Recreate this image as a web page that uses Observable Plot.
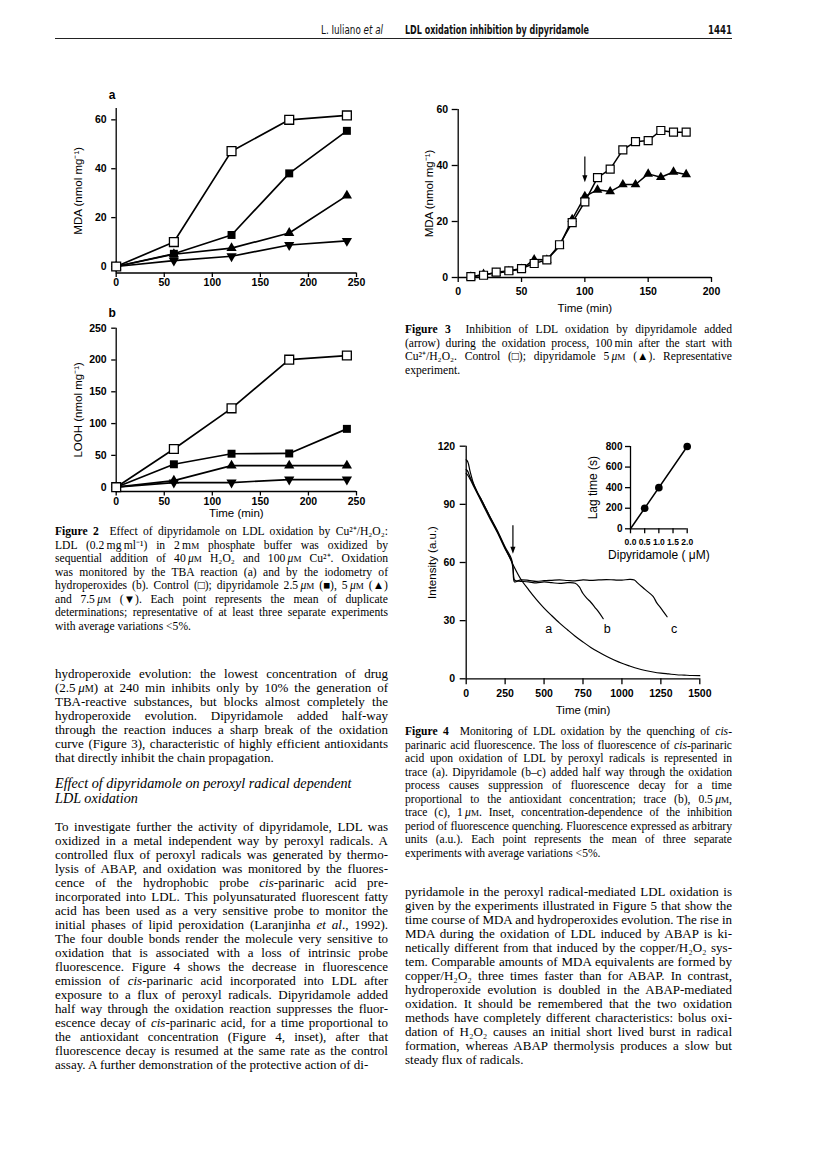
<!DOCTYPE html>
<html><head><meta charset="utf-8">
<script src="https://cdn.jsdelivr.net/npm/d3@7"></script>
<script src="https://cdn.jsdelivr.net/npm/@observablehq/plot@0.6"></script>
<style>
html,body{margin:0;padding:0;background:#fff;}
#page{position:relative;width:816px;height:1165px;overflow:hidden;background:#fff;}
.ln{position:absolute;white-space:nowrap;display:inline-block;font-family:"Liberation Serif","Times New Roman",serif;color:#000;}
.sc{font-size:0.78em;}
.hd{position:absolute;white-space:nowrap;font-family:"DejaVu Sans Condensed","DejaVu Sans",sans-serif;color:#111;transform-origin:0 50%;}
svg{position:absolute;}
</style></head>
<body><div id="page"></div>
<script>
// ---------------- DATA ----------------
// Figure 2 (a: MDA, b: LOOH) — time in min
const fig2Times = [0, 60, 120, 180, 240];
const mdaControl = [0, 10, 47.2, 60, 61.8];
const mdaDip25  = [0, 5.2, 12.9, 38.1, 55.5];
const mdaDip5   = [0, 5.0, 7.5, 13.7, 29];
const mdaDip75  = [0, 2.4, 4.2, 8.8, 10.5];
const loohControl = [0, 60, 124, 200.5, 207];
const loohDip25  = [0, 36, 52.6, 53, 91.7];
const loohDip5   = [0, 10.4, 34, 34, 34];
const loohDip75  = [0, 7.3, 7.3, 12, 12];
const fig2XTicks = [0, 50, 100, 150, 200, 250];
const fig2aYTicks = [0, 20, 40, 60];
const fig2bYTicks = [0, 50, 100, 150, 200, 250];

// Figure 3 — MDA vs time
const fig3Times = [10, 20, 30, 40, 50, 60, 70, 80, 90, 100, 110, 120, 130, 140, 150, 160, 170, 180];
const fig3Control = [0.3, 0.8, 1.9, 2.4, 3.2, 5.0, 6.3, 11.7, 19.6, 27.0, 35.7, 38.7, 45.6, 48.5, 48.9, 52.5, 51.9, 51.9];
const fig3Dip5 = [0.2, 1.2, 1.5, 2.2, 3.0, 6.4, 6.3, 11.2, 20.8, 29.0, 31.3, 30.7, 33.2, 33.2, 37.0, 35.8, 37.7, 36.8];
const fig3XTicks = [0, 50, 100, 150, 200];
const fig3YTicks = [0, 20, 40, 60];
const fig3ArrowTime = 100, fig3ArrowFrom = 43, fig3ArrowTo = 34;

// Figure 4 — fluorescence traces
const traceATime = [0, 10, 25, 50, 75, 100, 150, 200, 250, 300, 350, 400, 450, 500, 550, 600, 650, 700, 750, 800, 850, 900, 950, 1000, 1050, 1100, 1150, 1200, 1250, 1300, 1350, 1400, 1450, 1500];
const traceA = [108, 107, 104, 100, 95.5, 92, 84, 76, 67.5, 59, 51.5, 46, 41, 36.5, 32.5, 28.7, 25.3, 22, 19, 16.2, 13.8, 11.6, 9.7, 8.0, 6.6, 5.3, 4.3, 3.5, 2.9, 2.5, 2.1, 1.9, 1.7, 1.6];
const traceBTime = [0, 10, 25, 50, 100, 150, 200, 250, 290, 300, 310, 320, 350, 400, 450, 500, 550, 600, 650, 700, 725, 750, 775, 800, 825, 850, 880];
const traceB = [106, 105, 103, 99, 91, 83, 75.5, 67, 61, 57, 51, 50.5, 50.3, 50, 49.5, 50, 49.6, 49.2, 49.6, 49.3, 47.5, 44, 41.5, 39.5, 37, 34.5, 31];
const traceCTime = [0, 10, 25, 50, 100, 150, 200, 250, 290, 300, 310, 330, 350, 400, 450, 500, 550, 600, 650, 700, 750, 800, 850, 900, 950, 1000, 1050, 1080, 1100, 1150, 1200, 1225, 1250, 1290];
const traceC = [113, 112, 107, 100, 92, 84, 76.5, 68, 62, 58, 50, 50.5, 51, 50.8, 50.3, 50.6, 50.8, 51, 50.7, 50.5, 51, 50.8, 51, 51.2, 51, 50.9, 51.3, 51, 49.5, 46, 42.5, 39, 36.5, 32];
const traceLabels = ["a", "b", "c"];
const traceLabelTime = [530, 905, 1335];
const traceLabelValue = [25.5, 25.5, 25.5];
const fig4XTicks = [0, 250, 500, 750, 1000, 1250, 1500];
const fig4YTicks = [0, 30, 60, 90, 120];
const fig4ArrowTime = 300, fig4ArrowFrom = 79, fig4ArrowTo = 64.5;

// Figure 4 inset — lag time vs dose
const insetDose = [0.5, 1.0, 2.0];
const insetLag = [200, 400, 800];
const insetFitDose = [0, 2.0];
const insetFitLag = [0, 800];
const insetXTicks = [0, 0.5, 1.0, 1.5, 2.0];
const insetYTicks = [0, 200, 400, 600, 800];

// ---------------- HELPERS ----------------
const page = document.getElementById("page");
const SANS = "'Liberation Sans', Arial, Helvetica, sans-serif";
const toRows = (xs, ys, s) => xs.map((x, i) => ({x, y: ys[i], s}));
const triangleDown = {draw(ctx, size) {
  const s3 = Math.sqrt(3), y = -Math.sqrt(size / (s3 * 3));
  ctx.moveTo(0, -y * 2); ctx.lineTo(-s3 * y, y); ctx.lineTo(s3 * y, y); ctx.closePath();
}};
const arrowHead = {draw(ctx, size) {
  const s = Math.sqrt(size);
  ctx.moveTo(0, 0); ctx.lineTo(-s * 0.36, -s); ctx.lineTo(s * 0.36, -s); ctx.closePath();
}};

function addChart(o) {
  const svg = Plot.plot({
    width: o.width, height: o.height,
    marginLeft: o.ml, marginRight: o.mr, marginTop: o.mt, marginBottom: o.mb,
    x: {domain: o.xdom, axis: null}, y: {domain: o.ydom, axis: null},
    style: {fontFamily: SANS, fontSize: "11px", color: "#000", background: "transparent", overflow: "visible"},
    marks: o.marks
  });
  svg.style.left = o.left + "px"; svg.style.top = o.top + "px";
  page.appendChild(svg);
}
const axX = (ticks, o = {}) => Plot.axisX({ticks, label: null, tickSize: o.ts ?? 5, tickPadding: o.tp ?? 3, fontSize: o.fs ?? 10.5, fontWeight: "bold", strokeWidth: 1.3, tickFormat: o.fmt ?? (d => String(d))});
const axY = (ticks, o = {}) => Plot.axisY({ticks, label: null, tickSize: o.ts ?? 5, tickPadding: o.tp ?? 4, fontSize: o.fs ?? 10.5, fontWeight: "bold", strokeWidth: 1.3, tickFormat: o.fmt ?? (d => String(d))});
const yTitle = (t, dx, fs = 11.5) => Plot.text([t], {frameAnchor: "left", dx, rotate: -90, textAnchor: "middle", lineAnchor: "middle", fontSize: fs});
const xTitle = (t, dy, fs = 11.5) => Plot.text([t], {frameAnchor: "bottom", dy, textAnchor: "middle", lineAnchor: "middle", fontSize: fs});

// ---------------- FIGURE 2a ----------------
function fig2Marks(c, d25, d5, d75) {
  const all = [...toRows(fig2Times, c, "c"), ...toRows(fig2Times, d25, "d25"), ...toRows(fig2Times, d5, "d5"), ...toRows(fig2Times, d75, "d75")];
  return [
    Plot.line(all, {x: "x", y: "y", z: "s", stroke: "#000", strokeWidth: 1.7}),
    Plot.dot(toRows(fig2Times, d75, "d75"), {x: "x", y: "y", symbol: triangleDown, r: 3.8, fill: "#000"}),
    Plot.dot(toRows(fig2Times, d5, "d5"), {x: "x", y: "y", symbol: "triangle", r: 3.8, fill: "#000"}),
    Plot.dot(toRows(fig2Times, d25, "d25"), {x: "x", y: "y", symbol: "square", r: 4.5, fill: "#000"}),
    Plot.dot(toRows(fig2Times, c, "c"), {x: "x", y: "y", symbol: "square", r: 5.0, fill: "#fff", stroke: "#000", strokeWidth: 1.3})
  ];
}
addChart({left: 60, top: 80, width: 320, height: 210, ml: 55.7, mr: 24, mt: 28.1, mb: 210 - 192.5,
  xdom: [0, 250], ydom: [-2.66, 64.6],
  marks: [
    Plot.ruleY([-2.66], {strokeWidth: 1.3}), Plot.ruleX([0], {strokeWidth: 1.3}),
    axX(fig2XTicks, {ts: 4.5, tp: 1.5}), axY(fig2aYTicks, {ts: 4.5, tp: 5}),
    yTitle("MDA (nmol mg⁻¹)", -38),
    Plot.text(["a"], {frameAnchor: "top-left", dx: -4, dy: -13, textAnchor: "middle", lineAnchor: "middle", fontWeight: "bold", fontSize: 12}),
    ...fig2Marks(mdaControl, mdaDip25, mdaDip5, mdaDip75)
  ]});

// ---------------- FIGURE 2b ----------------
addChart({left: 60, top: 300, width: 320, height: 225, ml: 55.7, mr: 24, mt: 27.7, mb: 225 - 191,
  xdom: [0, 250], ydom: [-6.8, 250],
  marks: [
    Plot.ruleY([-6.8], {strokeWidth: 1.3}), Plot.ruleX([0], {strokeWidth: 1.3}),
    axX(fig2XTicks, {ts: 4.5, tp: 1.5}), axY(fig2bYTicks, {ts: 4.5, tp: 5}),
    yTitle("LOOH (nmol mg⁻¹)", -38),
    xTitle("Time (min)", 21.5),
    Plot.text(["b"], {frameAnchor: "top-left", dx: -4, dy: -14.7, textAnchor: "middle", lineAnchor: "middle", fontWeight: "bold", fontSize: 12}),
    ...fig2Marks(loohControl, loohDip25, loohDip5, loohDip75)
  ]});

// ---------------- FIGURE 3 ----------------
addChart({left: 400, top: 80, width: 340, height: 240, ml: 57.7, mr: 29, mt: 29, mb: 43,
  xdom: [0, 200], ydom: [0, 60],
  marks: [
    Plot.ruleY([0], {strokeWidth: 1.3}), Plot.ruleX([0], {strokeWidth: 1.3}),
    axX(fig3XTicks, {ts: 5, tp: 5}), axY(fig3YTicks, {ts: 6, tp: 4}),
    yTitle("MDA (nmol mg⁻¹)", -29),
    xTitle("Time (min)", 31),
    Plot.line(toRows(fig3Times, fig3Dip5, "d"), {x: "x", y: "y", stroke: "#000", strokeWidth: 1.5}),
    Plot.line(toRows(fig3Times, fig3Control, "c"), {x: "x", y: "y", stroke: "#000", strokeWidth: 1.5}),
    Plot.dot(toRows(fig3Times, fig3Dip5, "d"), {x: "x", y: "y", symbol: "triangle", r: 3.6, fill: "#000"}),
    Plot.dot(toRows(fig3Times, fig3Control, "c"), {x: "x", y: "y", symbol: "square", r: 4.5, fill: "#fff", stroke: "#000", strokeWidth: 1.2}),
    Plot.ruleX([fig3ArrowTime], {y1: fig3ArrowFrom, y2: fig3ArrowTo + 1, strokeWidth: 1.2}),
    Plot.dot([fig3ArrowTime], {x: d => d, y: fig3ArrowTo, symbol: arrowHead, r: 4, fill: "#000"})
  ]});

// ---------------- FIGURE 4 ----------------
addChart({left: 400, top: 420, width: 340, height: 305, ml: 65.7, mr: 40.7, mt: 25.7, mb: 46.7,
  xdom: [0, 1500], ydom: [0, 120],
  marks: [
    Plot.ruleY([0], {strokeWidth: 1.3}), Plot.ruleX([0], {strokeWidth: 1.3}),
    axX(fig4XTicks, {ts: 6, tp: 5}), axY(fig4YTicks, {ts: 6, tp: 5}),
    yTitle("Intensity (a.u.)", -33.7),
    xTitle("Time (min)", 31.7),
    Plot.line(toRows(traceATime, traceA, "a"), {x: "x", y: "y", stroke: "#000", strokeWidth: 1.2, curve: "catmull-rom"}),
    Plot.line(toRows(traceBTime, traceB, "b"), {x: "x", y: "y", stroke: "#000", strokeWidth: 1.2, curve: "catmull-rom"}),
    Plot.line(toRows(traceCTime, traceC, "c"), {x: "x", y: "y", stroke: "#000", strokeWidth: 1.2, curve: "catmull-rom"}),
    Plot.text(traceLabels.map((t, i) => ({t, x: traceLabelTime[i], y: traceLabelValue[i]})), {x: "x", y: "y", text: "t", fontSize: 12.5}),
    Plot.ruleX([fig4ArrowTime], {y1: fig4ArrowFrom, y2: fig4ArrowTo + 2, strokeWidth: 1.2}),
    Plot.dot([fig4ArrowTime], {x: d => d, y: fig4ArrowTo, symbol: arrowHead, r: 4, fill: "#000"})
  ]});

// ---------------- FIGURE 4 INSET ----------------
addChart({left: 560, top: 430, width: 170, height: 140, ml: 70, mr: 43.3, mt: 16, mb: 41.7,
  xdom: [0, 2], ydom: [0, 800],
  marks: [
    Plot.ruleY([0], {strokeWidth: 1.3}), Plot.ruleX([0], {strokeWidth: 1.3}),
    axX(insetXTicks, {ts: 5, tp: 5, fs: 8.5, fmt: d3.format(".1f")}), axY(insetYTicks, {ts: 5, tp: 3, fs: 10}),
    yTitle("Lag time (s)", -37, 12),
    xTitle("Dipyridamole ( μM)", 26.5, 12),
    Plot.line(toRows(insetFitDose, insetFitLag, "f"), {x: "x", y: "y", stroke: "#000", strokeWidth: 1.5}),
    Plot.dot(toRows(insetDose, insetLag, "p"), {x: "x", y: "y", r: 3.8, fill: "#000"})
  ]});

// ---------------- TEXT ----------------
const U = '<i>μ</i><span class="sc">M</span>';
const H2O2 = 'H₂O₂';
const CU = 'Cu²⁺';

const fig2Caption = [
  `<b>Figure 2</b>&nbsp; Effect of dipyridamole on LDL oxidation by ${CU}/${H2O2}:`,
  `LDL (0.2&#8239;mg&#8239;ml⁻¹) in 2&#8239;m<span class="sc">M</span> phosphate buffer was oxidized by`,
  `sequential addition of 40&#8239;${U} ${H2O2} and 100&#8239;${U} ${CU}. Oxidation`,
  `was monitored by the TBA reaction (a) and by the iodometry of`,
  `hydroperoxides (b). Control (□); dipyridamole 2.5&#8239;${U} (■), 5&#8239;${U} (▲)`,
  `and 7.5&#8239;${U} (▼). Each point represents the mean of duplicate`,
  `determinations; representative of at least three separate experiments`,
  `with average variations &lt;5%.`
];
const leftPara1 = [
  `hydroperoxide evolution: the lowest concentration of drug`,
  `(2.5&#8239;${U}) at 240 min inhibits only by 10% the generation of`,
  `TBA-reactive substances, but blocks almost completely the`,
  `hydroperoxide evolution. Dipyridamole added half-way`,
  `through the reaction induces a sharp break of the oxidation`,
  `curve (Figure 3), characteristic of highly efficient antioxidants`,
  `that directly inhibit the chain propagation.`
];
const leftHeading = [
  `<i>Effect of dipyridamole on peroxyl radical dependent</i>`,
  `<i>LDL oxidation</i>`
];
const leftPara2 = [
  `To investigate further the activity of dipyridamole, LDL was`,
  `oxidized in a metal independent way by peroxyl radicals. A`,
  `controlled flux of peroxyl radicals was generated by thermo-`,
  `lysis of ABAP, and oxidation was monitored by the fluores-`,
  `cence of the hydrophobic probe <i>cis</i>-parinaric acid pre-`,
  `incorporated into LDL. This polyunsaturated fluorescent fatty`,
  `acid has been used as a very sensitive probe to monitor the`,
  `initial phases of lipid peroxidation (Laranjinha <i>et al</i>., 1992).`,
  `The four double bonds render the molecule very sensitive to`,
  `oxidation that is associated with a loss of intrinsic probe`,
  `fluorescence. Figure 4 shows the decrease in fluorescence`,
  `emission of <i>cis</i>-parinaric acid incorporated into LDL after`,
  `exposure to a flux of peroxyl radicals. Dipyridamole added`,
  `half way through the oxidation reaction suppresses the fluor-`,
  `escence decay of <i>cis</i>-parinaric acid, for a time proportional to`,
  `the antioxidant concentration (Figure 4, inset), after that`,
  `fluorescence decay is resumed at the same rate as the control`,
  `assay. A further demonstration of the protective action of di-`
];
const fig3Caption = [
  `<b>Figure 3</b>&nbsp; Inhibition of LDL oxidation by dipyridamole added`,
  `(arrow) during the oxidation process, 100&#8239;min after the start with`,
  `${CU}/${H2O2}. Control (□); dipyridamole 5&#8239;${U} (▲). Representative`,
  `experiment.`
];
const fig4Caption = [
  `<b>Figure 4</b>&nbsp; Monitoring of LDL oxidation by the quenching of <i>cis</i>-`,
  `parinaric acid fluorescence. The loss of fluorescence of <i>cis</i>-parinaric`,
  `acid upon oxidation of LDL by peroxyl radicals is represented in`,
  `trace (a). Dipyridamole (b–c) added half way through the oxidation`,
  `process causes suppression of fluorescence decay for a time`,
  `proportional to the antioxidant concentration; trace (b), 0.5&#8239;${U},`,
  `trace (c), 1&#8239;${U}. Inset, concentration-dependence of the inhibition`,
  `period of fluorescence quenching. Fluorescence expressed as arbitrary`,
  `units (a.u.). Each point represents the mean of three separate`,
  `experiments with average variations &lt;5%.`
];
const rightPara = [
  `pyridamole in the peroxyl radical-mediated LDL oxidation is`,
  `given by the experiments illustrated in Figure 5 that show the`,
  `time course of MDA and hydroperoxides evolution. The rise in`,
  `MDA during the oxidation of LDL induced by ABAP is ki-`,
  `netically different from that induced by the copper/${H2O2} sys-`,
  `tem. Comparable amounts of MDA equivalents are formed by`,
  `copper/${H2O2} three times faster than for ABAP. In contrast,`,
  `hydroperoxide evolution is doubled in the ABAP-mediated`,
  `oxidation. It should be remembered that the two oxidation`,
  `methods have completely different characteristics: bolus oxi-`,
  `dation of ${H2O2} causes an initial short lived burst in radical`,
  `formation, whereas ABAP thermolysis produces a slow but`,
  `steady flux of radicals.`
];

const LEFT_X = 55, LEFT_W = 333, RIGHT_X = 405, RIGHT_W = 327;
const pending = [];
function block(lines, x, w, y0, lh, fs, justifyLast = false, justify = true) {
  lines.forEach((html, i) => {
    const el = document.createElement("div");
    el.className = "ln";
    el.innerHTML = html;
    el.style.fontSize = fs + "px";
    el.style.lineHeight = lh + "px";
    el.style.left = x + "px";
    el.style.top = (y0 + i * lh - lh / 2) + "px";
    page.appendChild(el);
    const last = i === lines.length - 1;
    pending.push({el, w, just: justify && (!last || justifyLast)});
  });
}
function blockY(lines, x, w, yCenters, lh, fs) {
  lines.forEach((html, i) => block([html], x, w, yCenters[i], lh, fs, false, false));
}

block(fig2Caption, LEFT_X, LEFT_W, 532, 13.5, 11.6);
block(leftPara1, LEFT_X, LEFT_W, 674, 14, 13);
blockY(leftHeading, LEFT_X, LEFT_W, [783, 798], 15, 14.2);
block(leftPara2, LEFT_X, LEFT_W, 827, 14, 13);
block(fig3Caption, RIGHT_X, RIGHT_W, 330, 13.5, 11.6);
block(fig4Caption, RIGHT_X, RIGHT_W, 732, 13.5, 11.6);
block(rightPara, RIGHT_X, RIGHT_W, 892, 14, 13);

// header
function header(html, x, w, y, fs, bold) {
  const el = document.createElement("div");
  el.className = "hd";
  el.innerHTML = html;
  el.style.fontSize = fs + "px";
  el.style.lineHeight = "14px";
  el.style.left = x + "px";
  el.style.top = (y - 7) + "px";
  if (bold) el.style.fontWeight = "bold";
  page.appendChild(el);
  pending.push({el, w, scale: true});
}
header("L. Iuliano <i>et al</i>", 321, 62, 30, 12, false);
header("LDL oxidation inhibition by dipyridamole", 405, 184, 30, 12, true);
header("1441", 708, 24, 30, 12, true);
const rule = document.createElement("div");
rule.style.cssText = "position:absolute;left:55px;top:38px;width:677px;height:0;border-top:1.4px solid #222;";
page.appendChild(rule);

function layout() {
  for (const p of pending) {
    const el = p.el;
    if (p.scale) {
      el.style.transform = "none";
      const nat = el.getBoundingClientRect().width;
      el.style.transform = `scaleX(${p.w / nat})`;
      continue;
    }
    el.style.wordSpacing = "0px"; el.style.letterSpacing = "0px";
    const nat = el.getBoundingClientRect().width;
    const spaces = (el.textContent.match(/[ \u00A0]/g) || []).length;
    const chars = el.textContent.length;
    if (p.just && spaces > 0) {
      let ws = (p.w - nat) / spaces;
      if (ws < -1.0) {
        const rest = (p.w - nat) - (-1.0 * spaces);
        el.style.letterSpacing = (rest / chars) + "px";
        ws = -1.0;
      }
      el.style.wordSpacing = ws + "px";
    } else if (nat > p.w) {
      el.style.letterSpacing = ((p.w - nat) / chars) + "px";
    }
  }
}
layout();
if (document.fonts && document.fonts.ready) document.fonts.ready.then(layout);
</script>
</body></html>
